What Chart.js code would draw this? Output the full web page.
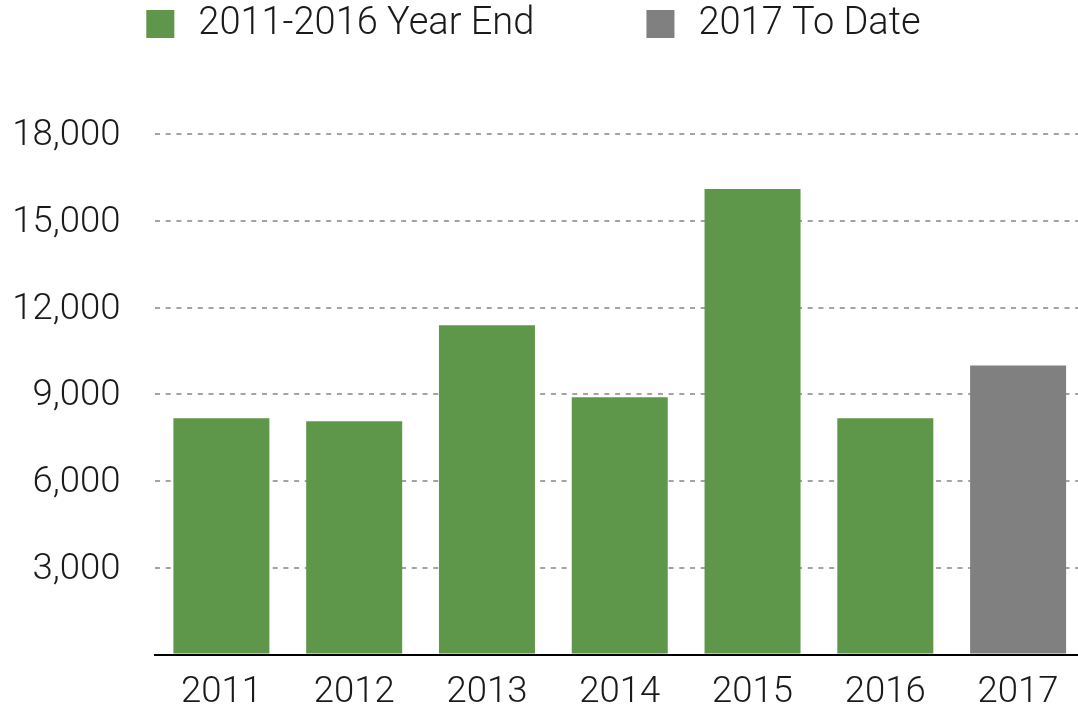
<!DOCTYPE html>
<html>
<head>
<meta charset="utf-8">
<title>Yearly totals</title>
<script src="https://cdn.jsdelivr.net/npm/chart.js@4.4.0/dist/chart.umd.min.js"></script>
<style>
    html, body { margin: 0; padding: 0; background: #fff; overflow: hidden; }
</style>
</head>
<body>
<canvas id="barCanvas" width="1090" height="711"></canvas>
<script>
var years = ['2011', '2012', '2013', '2014', '2015', '2016', '2017'];
var yearEndValues = [8170, 8070, 11390, 8900, 16100, 8170, null];
var toDateValues = [null, null, null, null, null, null, 10000];
var seriesLabels = ['2011-2016 Year End', '2017 To Date'];
var yMax = 18000;
var yStep = 3000;

var green = '#5e974a';
var grey = '#7f807f';
var textColor = '#1a1a1a';
var fontFamily = 'Roboto, "Liberation Sans", sans-serif';

// extra room between the legend and the plot
var legendSpacer = {
    id: 'legendSpacer',
    beforeInit: function (chart) {
        var fit = chart.legend.fit;
        chart.legend.fit = function () {
            fit.bind(chart.legend)();
            this.height += 81;
        };
    }
};

var chart = new Chart(document.getElementById('barCanvas'), {
    type: 'bar',
    data: {
        labels: years,
        datasets: [
            {
                label: seriesLabels[0],
                data: yearEndValues,
                backgroundColor: green,
                borderWidth: 0,
                barPercentage: 0.723,
                categoryPercentage: 1
            },
            {
                label: seriesLabels[1],
                data: toDateValues,
                backgroundColor: grey,
                borderWidth: 0,
                barPercentage: 0.723,
                categoryPercentage: 1
            }
        ]
    },
    options: {
        responsive: false,
        animation: false,
        layout: {
            padding: { top: -102.1, left: -22.6, right: 5.5, bottom: -22.4 }
        },
        plugins: {
            tooltip: { enabled: false },
            legend: {
                position: 'top',
                labels: {
                    usePointStyle: true,
                    pointStyle: 'rect',
                    boxHeight: 28,
                    padding: 107.1,
                    color: textColor,
                    font: { family: fontFamily, size: 38, weight: 300 }
                }
            }
        },
        scales: {
            x: {
                stacked: true,
                grid: { display: false, drawTicks: false },
                border: { display: true, color: '#000', width: 2 },
                ticks: {
                    color: textColor,
                    padding: 16.6,
                    font: { family: fontFamily, size: 36.5, weight: 300 }
                }
            },
            y: {
                stacked: true,
                min: 0,
                max: yMax,
                afterFit: function (scale) {
                    scale.width = 177.6;
                },
                grid: {
                    drawTicks: false,
                    lineWidth: 2,
                    color: function (ctx) {
                        return ctx.tick && ctx.tick.value === 0 ? 'rgba(0,0,0,0)' : '#a3a3a3';
                    }
                },
                border: { display: false, dash: [5, 5.7] },
                ticks: {
                    stepSize: yStep,
                    padding: 34.5,
                    labelOffset: 2,
                    color: textColor,
                    font: { family: fontFamily, size: 36.5, weight: 300 },
                    callback: function (value) {
                        return value === 0 ? '' : value.toLocaleString('en-US');
                    }
                }
            }
        }
    },
    plugins: [legendSpacer]
});
</script>
</body>
</html>
